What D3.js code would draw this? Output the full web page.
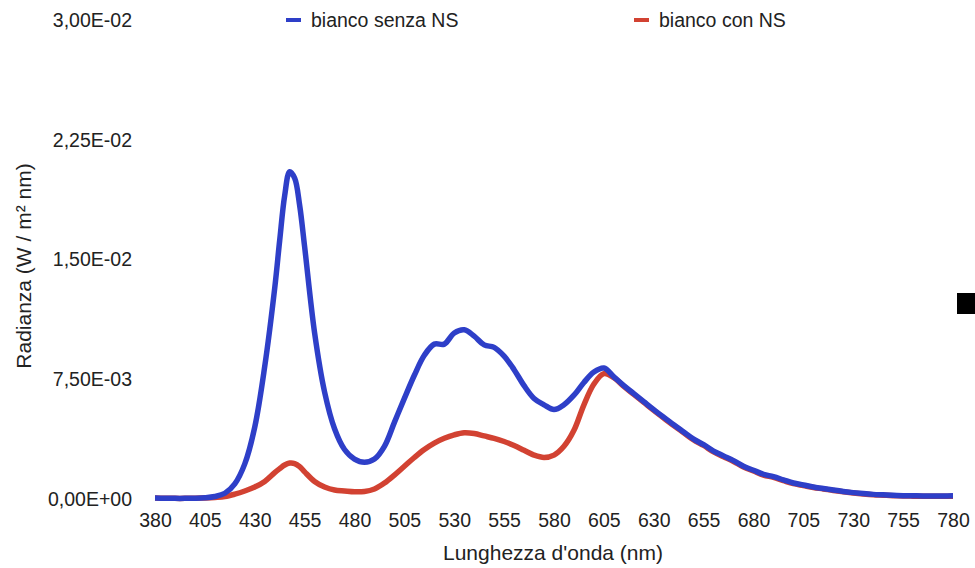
<!DOCTYPE html>
<html>
<head>
<meta charset="utf-8">
<script src="https://cdn.jsdelivr.net/npm/d3@7"></script>
<style>
  html, body { margin: 0; padding: 0; background: #fff; }
  svg { display: block; font-family: "Liberation Sans", Arial, Helvetica, sans-serif; }
</style>
</head>
<body>
<svg id="chart" width="975" height="568"></svg>
<script>
// ---- data ----
const wavelengths = [380,385,390,395,400,405,410,415,420,425,430,435,440,442.5,445,447.5,450,452.5,455,460,465,470,475,480,485,490,495,500,505,510,515,520,525,530,535,540,545,550,555,560,565,570,575,580,585,590,595,600,605,610,615,620,625,630,635,640,645,650,655,660,665,670,675,680,685,690,695,700,705,710,715,720,725,730,735,740,745,750,755,760,765,770,775,780];

const biancoSenzaNS = [0.00006,0.00005,0.00004,0.00004,0.00005,0.00008,0.00016,0.00036,0.00095,0.0022,0.0045,0.0083,0.0132,0.0162,0.0190,0.0205,0.0201,0.0184,0.0158,0.0104,0.0067,0.0044,0.0031,0.0025,0.0023,0.0025,0.0033,0.0048,0.0063,0.00775,0.0090,0.0097,0.0097,0.0104,0.0106,0.0102,0.00965,0.0095,0.00895,0.0081,0.0071,0.0063,0.0059,0.0056,0.0059,0.0065,0.0073,0.00795,0.0082,0.00765,0.0071,0.0066,0.0061,0.0056,0.00512,0.00465,0.0042,0.00375,0.0034,0.0030,0.0027,0.0024,0.00205,0.0018,0.00155,0.0014,0.0012,0.0010,0.00088,0.00075,0.00066,0.00056,0.00047,0.0004,0.00034,0.00029,0.00026,0.00023,0.00021,0.0002,0.00019,0.00019,0.00019,0.0002];

const biancoConNS = [0.00006,0.00005,0.00004,0.00004,0.00005,0.00007,0.0001,0.00015,0.0003,0.0005,0.00075,0.0011,0.00165,0.0019,0.00213,0.00225,0.00222,0.00203,0.0017,0.0011,0.00075,0.00056,0.0005,0.00045,0.00047,0.00063,0.0010,0.0015,0.00205,0.0026,0.0031,0.0035,0.0038,0.00402,0.00415,0.0041,0.00395,0.0038,0.0036,0.00335,0.00305,0.00275,0.0026,0.00275,0.0033,0.0043,0.0059,0.0072,0.00785,0.0076,0.00705,0.00655,0.00605,0.00555,0.00507,0.0046,0.00415,0.0037,0.00335,0.00295,0.00265,0.00235,0.002,0.00175,0.0015,0.00135,0.00115,0.00096,0.00084,0.00072,0.00063,0.00053,0.00045,0.00038,0.00032,0.00027,0.00024,0.00021,0.00019,0.00018,0.00017,0.00017,0.00017,0.00018];

const xTicks = [380,405,430,455,480,505,530,555,580,605,630,655,680,705,730,755,780];
const yTicks = [0,0.0075,0.015,0.0225,0.03];
const seriesNames = ["bianco senza NS","bianco con NS"];
const xTitle = "Lunghezza d'onda (nm)";
const yTitle = "Radianza (W / m² nm)";

// ---- drawing ----
const blue = "#2e3fc8";
const red = "#d24232";
const textColor = "#222";
const fontSize = 19.5;

const svg = d3.select("#chart");
const x = d3.scaleLinear().domain([380,780]).range([155,953]);
const y = d3.scaleLinear().domain([0,0.03]).range([499,20]);

function fmtE(v){
  const s = v.toExponential(2);
  let [m,e] = s.split("e");
  const sign = e[0] === "-" ? "-" : "+";
  let digits = e.replace(/[+-]/,"");
  if (digits.length < 2) digits = "0" + digits;
  return m.replace(".", ",") + "E" + sign + digits;
}

// y axis
const yAxis = svg.append("g")
  .attr("transform", `translate(${x(380)},0)`)
  .call(d3.axisLeft(y).tickValues(yTicks).tickFormat(fmtE).tickSize(0).tickPadding(23));
yAxis.select(".domain").remove();
yAxis.selectAll("text").attr("font-size", fontSize).attr("fill", textColor)
  .attr("font-family", "Liberation Sans, Arial, sans-serif");

// x axis
const xAxis = svg.append("g")
  .attr("transform", `translate(0,${y(0)})`)
  .call(d3.axisBottom(x).tickValues(xTicks).tickFormat(d3.format("d")).tickSize(0).tickPadding(14));
xAxis.select(".domain").remove();
xAxis.selectAll("text").attr("font-size", fontSize).attr("fill", textColor)
  .attr("font-family", "Liberation Sans, Arial, sans-serif");

// titles
svg.append("text")
  .attr("x", 553).attr("y", 560)
  .attr("text-anchor", "middle")
  .attr("font-size", 21).attr("fill", textColor)
  .text(xTitle);

svg.append("text")
  .attr("transform", "translate(31,266) rotate(-90)")
  .attr("text-anchor", "middle")
  .attr("font-size", 21).attr("fill", textColor)
  .text(yTitle);

// lines
const line = d3.line()
  .x((d) => x(d[0]))
  .y((d) => y(d[1]))
  .curve(d3.curveCatmullRom.alpha(0.5));

const redData = wavelengths.map((w,i) => [w, biancoConNS[i]]);
const blueData = wavelengths.map((w,i) => [w, biancoSenzaNS[i]]);

svg.append("path").datum(redData)
  .attr("d", line).attr("fill", "none")
  .attr("stroke", red).attr("stroke-width", 5.5).attr("stroke-linejoin", "round");

svg.append("path").datum(blueData)
  .attr("d", line).attr("fill", "none")
  .attr("stroke", blue).attr("stroke-width", 5.5).attr("stroke-linejoin", "round");

// legend
const legendItems = [
  {name: seriesNames[0], color: blue, x: 286},
  {name: seriesNames[1], color: red, x: 634}
];
const lg = svg.append("g");
legendItems.forEach(it => {
  lg.append("line")
    .attr("x1", it.x).attr("x2", it.x + 15)
    .attr("y1", 20).attr("y2", 20)
    .attr("stroke", it.color).attr("stroke-width", 4);
  lg.append("text")
    .attr("x", it.x + 25).attr("y", 27)
    .attr("font-size", fontSize).attr("fill", textColor)
    .text(it.name);
});

// clipped marker at right edge
svg.append("rect")
  .attr("x", 957).attr("y", 293).attr("width", 18).attr("height", 21)
  .attr("fill", "#000");
</script>
</body>
</html>
